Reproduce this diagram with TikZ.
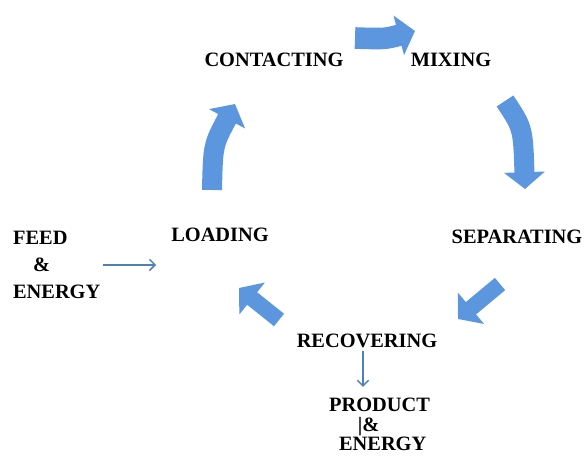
\documentclass[tikz,border=0pt]{standalone}
\usepackage{fontspec}
\setmainfont{Liberation Serif}
\usetikzlibrary{arrows.meta}
\definecolor{flowblue}{RGB}{92,150,222}
\tikzset{
  stage/.style={font=\bfseries\fontsize{14.5}{17}\selectfont, inner sep=2pt},
  cyclearrow/.style={flowblue, line width=0.5cm, -{Triangle[length=0.42cm, width=1cm]}},
  thinarrow/.style={flowblue!85!black, line width=1.1pt, -{Straight Barb[length=4pt, width=8pt]}}
}
\begin{document}
\begin{tikzpicture}[x=0.025cm, y=-0.025cm]
\useasboundingbox (0,0) rectangle (585,457);

\node[stage] (contact) at (274,60) {CONTACTING};
\node[stage] (mix) at (451,60) {MIXING};
\node[stage] (sep) at (517,237) {SEPARATING};
\node[stage] (recover) at (367,341) {RECOVERING};
\node[stage] (load) at (220,235) {LOADING};
\node[stage, font=\bfseries\fontsize{14.5}{19.5}\selectfont, align=left, anchor=west] (feed) at (10,265)
  {FEED\\\hspace*{0.5cm}\&\\ENERGY};
\node[stage, font=\bfseries\fontsize{14.5}{14}\selectfont, align=left, anchor=north west] (product) at (326,395)
  {PRODUCT\\\hspace*{0.72cm}|\&\\\hspace*{0.25cm}ENERGY};

% big arrows round the cycle
\coordinate (topA) at (355,38);
\coordinate (topB) at (415,31);
\coordinate (rightA) at (505,101);
\coordinate (rightB) at (525,189);
\coordinate (lowrA) at (500,284);
\coordinate (lowrB) at (458,319);
\coordinate (lowlA) at (279,320);
\coordinate (lowlB) at (239,288);
\coordinate (leftA) at (212,190);
\coordinate (leftB) at (235,104);

\draw[cyclearrow, line width=0.54cm] (topA) .. controls (385,39) .. (topB);
\draw[cyclearrow] (rightA) .. controls (523,128) .. (rightB);
\draw[cyclearrow, line width=0.4cm] (lowrA) -- (lowrB);
\draw[cyclearrow, line width=0.4cm] (lowlA) -- (lowlB);
\draw[cyclearrow] (leftA) .. controls (213,145) .. (leftB);

% feed in, product out
\draw[thinarrow, shorten >=0.3cm] (feed.east) -- (feed.east -| load.west);
\draw[thinarrow, shorten >=0.2cm] ([xshift=-0.1cm]recover.south) -- ([xshift=-0.1cm]recover.south |- product.north);
\end{tikzpicture}
\end{document}
